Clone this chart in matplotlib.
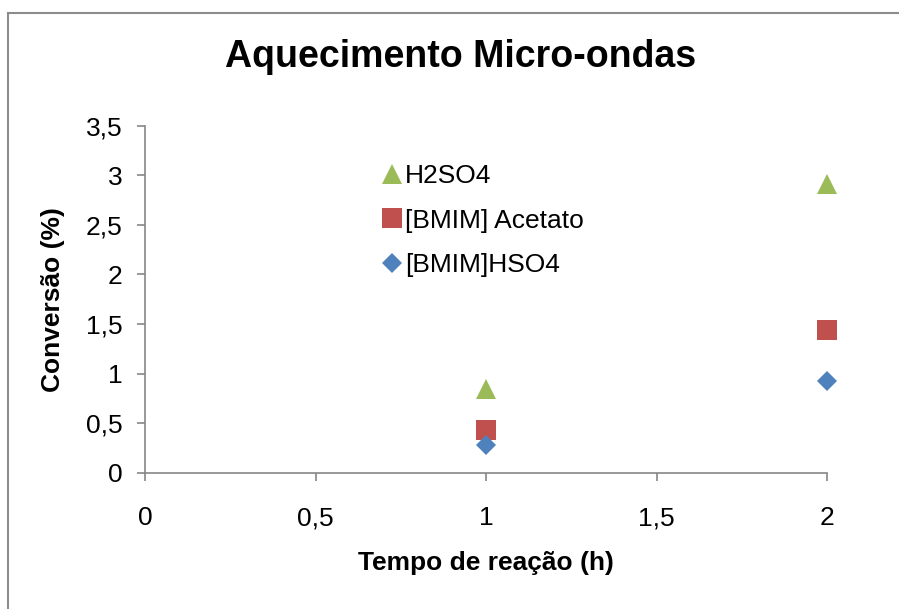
import matplotlib
matplotlib.use('Agg')
import matplotlib.pyplot as plt
from matplotlib.ticker import FuncFormatter, MultipleLocator
from matplotlib.lines import Line2D

plt.rcParams['font.family'] = ['Liberation Sans', 'DejaVu Sans']

tempo = [1, 2]
h2so4 = [0.84, 2.91]
bmim_acetato = [0.43, 1.44]
bmim_hso4 = [0.28, 0.92]

series = ['H2SO4', '[BMIM] Acetato', '[BMIM]HSO4']
cores = ['#9BBB59', '#C0504D', '#4F81BD']
marcadores = ['^', 's', 'D']
tamanhos = [14, 14, 10.5]

fig = plt.figure(figsize=(8.99, 6.09), dpi=100)
ax = fig.add_axes([0.1613, 0.2238, 0.9203 - 0.1613, 0.7936 - 0.2238])

for y, cor, m, ms in zip([h2so4, bmim_acetato, bmim_hso4], cores, marcadores, tamanhos):
    ax.plot(tempo, y, linestyle='none', marker=m, markersize=ms, color=cor,
            markeredgewidth=0, clip_on=False)

ax.set_xlim(0, 2)
ax.set_ylim(0, 3.5)
ax.xaxis.set_major_locator(MultipleLocator(0.5))
ax.yaxis.set_major_locator(MultipleLocator(0.5))
virgula = FuncFormatter(lambda v, p: f'{v:g}'.replace('.', ','))
ax.xaxis.set_major_formatter(virgula)
ax.yaxis.set_major_formatter(virgula)

for s in ['top', 'right']:
    ax.spines[s].set_visible(False)
for s in ['left', 'bottom']:
    ax.spines[s].set_color('#868686')
    ax.spines[s].set_linewidth(1.2)
ax.tick_params(axis='both', direction='out', length=6, width=1.2, color='#868686',
               labelsize=19)
ax.tick_params(axis='x', pad=18)
ax.tick_params(axis='y', pad=10)

ax.set_xlabel('Tempo de reação (h)', fontsize=19, fontweight='bold', labelpad=15)
ax.set_ylabel('Conversão (%)', fontsize=19, fontweight='bold', labelpad=15)
fig.text(0.512, 0.906, 'Aquecimento Micro-ondas', fontsize=27, fontweight='bold',
         ha='center', va='center')

handles = [Line2D([], [], linestyle='none', marker=m, markersize=ms, color=c,
                  markeredgewidth=0) for m, ms, c in zip(marcadores, tamanhos, cores)]
fig.legend(handles, series, loc='upper left', bbox_to_anchor=(0.4244, 0.7307),
           frameon=False, fontsize=19, handlelength=0.8, handletextpad=0.1,
           labelspacing=0.78, borderpad=0, borderaxespad=0)

# moldura do grafico
fig.add_artist(Line2D([8 / 899, 8 / 899], [0, 1 - 13 / 609], transform=fig.transFigure,
                      color='#8c8c8c', linewidth=1.5))
fig.add_artist(Line2D([8 / 899, 1], [1 - 13 / 609, 1 - 13 / 609], transform=fig.transFigure,
                      color='#8c8c8c', linewidth=1.5))

fig.savefig('out.png', dpi=100)
